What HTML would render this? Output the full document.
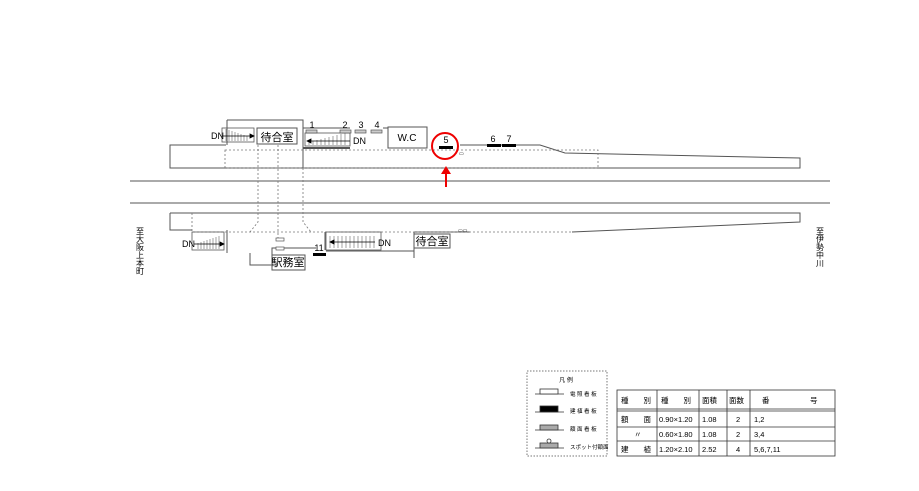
<!DOCTYPE html>
<html><head><meta charset="utf-8"><style>
body{margin:0;background:#fff}
svg{display:block}
text{font-family:"Liberation Sans","Noto Sans CJK JP",sans-serif;fill:#000}
</style></head><body>
<svg width="919" height="491" viewBox="0 0 919 491" xmlns="http://www.w3.org/2000/svg">
<g stroke="#555" stroke-width="1" fill="none">
<!-- tracks -->
<line x1="130" y1="181" x2="830" y2="181"/>
<line x1="130" y1="203" x2="830" y2="203"/>
<!-- top platform -->
<polyline points="226,145 170,145 170,168 800,168 800,158 565,153 540,145 460,145"/>
<polyline points="227,120 227,145"/>
<polyline points="227,120 303,120 303,145"/>
<line x1="303" y1="128" x2="303" y2="168"/>
<line x1="303" y1="128" x2="350" y2="128"/>
<line x1="303" y1="148" x2="350" y2="148" stroke-width="2"/>
<line x1="383" y1="128" x2="388" y2="128"/>
<rect x="388" y="127" width="39" height="21" fill="#fff"/>
<!-- bottom platform -->
<polyline points="170,213 800,213 800,222 572,232"/>
<polyline points="170,213 170,230 192,230"/>
<line x1="227" y1="230" x2="227" y2="253"/>
<polyline points="250,253 250,265 272,265 272,248 316,248"/>
<polyline points="272,265 272,265"/>
<line x1="326" y1="251" x2="414" y2="251"/>
<line x1="414" y1="232" x2="414" y2="258"/>
<line x1="414" y1="232" x2="470" y2="232"/>
<line x1="325" y1="232" x2="325" y2="250"/>
</g>
<g stroke="#777" stroke-width="0.8" stroke-dasharray="2,2" fill="none">
<rect x="225" y="150" width="373" height="18"/>
<polyline points="192,213 192,232 572,232"/>
<line x1="258" y1="145" x2="258" y2="213"/>
<polyline points="258,213 258,222 250,232"/>
<line x1="278" y1="145" x2="278" y2="240"/>
<polyline points="303,168 303,222 311,232"/>
</g>
<!-- stairs -->
<g stroke="#555" stroke-width="0.8" fill="none">
<rect x="222" y="128" width="32" height="14"/>
<rect x="192" y="232" width="32" height="18"/>
<rect x="326" y="232" width="55" height="18"/>
<rect x="305" y="133" width="45" height="13"/>
</g>
<g stroke="#666" stroke-width="0.6">
<path d="M226 141V129M229 141V130M232 141V131M235 141V132M238 141V133M241 141V134M244 141V135M247 141V136"/>
<path d="M198 249V243M201 249V242M204 249V241M207 249V240M210 249V239M213 249V238M216 249V237M219 249V236"/>
<path d="M330 248V236M334 248V236M338 248V236M342 248V236M346 248V236M350 248V236M354 248V236M358 248V236M362 248V236M366 248V236M370 248V236M374 248V236"/>
<path d="M309 145V142M313 145V141M317 145V140M321 145V139M325 145V138M329 145V137M333 145V136M337 145V135M341 145V134M345 145V133"/>
</g>
<g stroke="#000" stroke-width="0.8" fill="#000">
<line x1="222" y1="136" x2="250" y2="136"/><polygon points="250,134 254,136 250,138"/>
<line x1="194" y1="244" x2="220" y2="244"/><polygon points="220,242 224,244 220,246"/>
<line x1="350" y1="141" x2="311" y2="141"/><polygon points="311,139 307,141 311,143"/>
<line x1="375" y1="242" x2="334" y2="242"/><polygon points="334,240 330,242 334,244"/>
</g>
<!-- rooms -->
<rect x="257" y="128" width="40" height="16" fill="#fff" stroke="#555"/>
<text x="277" y="141" font-size="11" text-anchor="middle">待合室</text>
<rect x="414" y="234" width="36" height="14" fill="#fff" stroke="#555"/>
<text x="432" y="245" font-size="11" text-anchor="middle">待合室</text>
<rect x="272" y="255" width="33" height="15" fill="#fff" stroke="#555"/>
<text x="288" y="266" font-size="11" text-anchor="middle">駅務室</text>
<text x="407" y="141" font-size="10" text-anchor="middle">W.C</text>
<g font-size="9">
<text x="211" y="139">DN</text><text x="182" y="247">DN</text>
<text x="353" y="144">DN</text><text x="378" y="246">DN</text>
</g>
<!-- signs -->
<g fill="#ccc" stroke="#555" stroke-width="0.7">
<rect x="306" y="130" width="11" height="3"/><rect x="340" y="130" width="11" height="3"/>
<rect x="355" y="130" width="11" height="3"/><rect x="371" y="130" width="11" height="3"/>
<rect x="276" y="238" width="8" height="3" fill="#fff"/><rect x="276" y="247" width="8" height="3" fill="#fff"/>
</g>
<g fill="#000">
<rect x="439" y="146" width="14" height="3"/><rect x="487" y="144" width="14" height="3"/>
<rect x="502" y="144" width="14" height="3"/><rect x="313" y="253" width="13" height="3"/>
</g>
<g font-size="9" text-anchor="middle">
<text x="312" y="128">1</text><text x="345" y="128">2</text><text x="361" y="128">3</text><text x="377" y="128">4</text>
<text x="446" y="143">5</text><text x="493" y="142">6</text><text x="509" y="142">7</text><text x="319" y="251">11</text>
</g>
<text x="459" y="155" font-size="5">▭</text>
<text x="458" y="232" font-size="5">▭▭</text>
<!-- red -->
<circle cx="445" cy="146" r="13" fill="none" stroke="#e00" stroke-width="2"/>
<line x1="446" y1="187" x2="446" y2="170" stroke="#e00" stroke-width="2"/>
<polygon points="441,174 446,166 451,174" fill="#e00"/>
<!-- vertical labels -->
<text font-size="8" text-anchor="middle"><tspan x="140" y="234">至</tspan><tspan x="140" y="242">大</tspan><tspan x="140" y="250">阪</tspan><tspan x="140" y="258">上</tspan><tspan x="140" y="266">本</tspan><tspan x="140" y="274">町</tspan></text>
<text font-size="8" text-anchor="middle"><tspan x="820" y="234">至</tspan><tspan x="820" y="242">伊</tspan><tspan x="820" y="250">勢</tspan><tspan x="820" y="258">中</tspan><tspan x="820" y="266">川</tspan></text>
<!-- legend -->
<rect x="527" y="371" width="80" height="85" fill="none" stroke="#777" stroke-dasharray="1.5,1.5"/>
<text x="566" y="382" font-size="6" text-anchor="middle">凡 例</text>
<g stroke="#333" stroke-width="0.8">
<line x1="535" y1="394" x2="564" y2="394"/><rect x="540" y="389" width="18" height="5" fill="#fff"/>
<line x1="535" y1="412" x2="564" y2="412"/><rect x="540" y="406" width="18" height="6" fill="#000"/>
<line x1="535" y1="430" x2="564" y2="430"/><rect x="540" y="425" width="18" height="5" fill="#aaa"/>
<line x1="535" y1="448" x2="564" y2="448"/><rect x="540" y="443" width="18" height="5" fill="#aaa"/><circle cx="549" cy="441" r="2" fill="#fff"/>
</g>
<g font-size="5.5"><text x="570" y="396">電 照 看 板</text><text x="570" y="413">建 植 看 板</text><text x="570" y="431">額 面 看 板</text><text x="570" y="449">スポット付額面</text></g>
<!-- table -->
<g stroke="#333" stroke-width="0.8" fill="none">
<rect x="617" y="390" width="218" height="66"/>
<line x1="617" y1="409" x2="835" y2="409"/><line x1="617" y1="411" x2="835" y2="411"/>
<line x1="617" y1="427" x2="835" y2="427"/><line x1="617" y1="441" x2="835" y2="441"/>
<line x1="657" y1="390" x2="657" y2="456"/><line x1="699" y1="390" x2="699" y2="456"/>
<line x1="727" y1="390" x2="727" y2="456"/><line x1="750" y1="390" x2="750" y2="456"/>
</g>
<g font-size="7.5">
<text x="621" y="403">種　　別</text><text x="661" y="403">種　　別</text><text x="702" y="403">面積</text><text x="729" y="403">面数</text><text x="762" y="403">番</text><text x="810" y="403">号</text>
<text x="621" y="422">額　　面</text><text x="659" y="422">0.90×1.20</text><text x="702" y="422">1.08</text><text x="736" y="422">2</text><text x="754" y="422">1,2</text>
<text x="634" y="437">〃</text><text x="659" y="437">0.60×1.80</text><text x="702" y="437">1.08</text><text x="736" y="437">2</text><text x="754" y="437">3,4</text>
<text x="621" y="452">建　　植</text><text x="659" y="452">1.20×2.10</text><text x="702" y="452">2.52</text><text x="736" y="452">4</text><text x="754" y="452">5,6,7,11</text>
</g>
</svg>
</body></html>
